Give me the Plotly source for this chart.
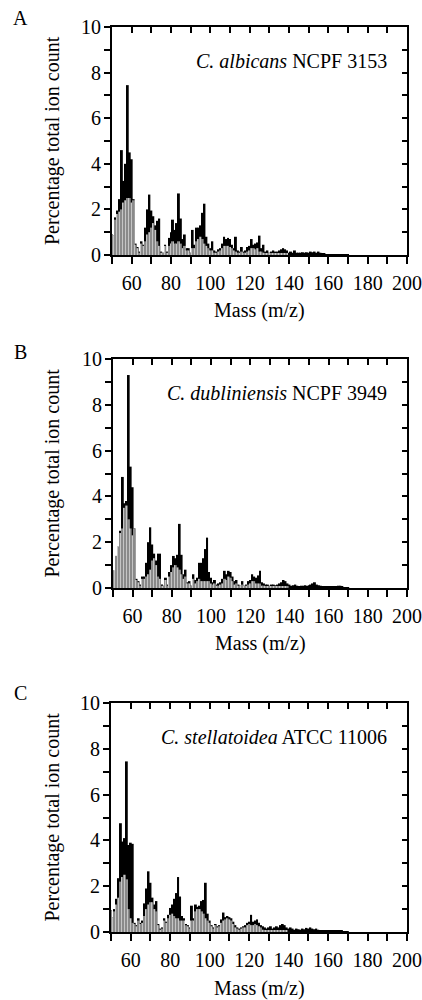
import plotly.graph_objects as go

# ---------------- data ----------------
masses = list(range(50, 171))

A_total = [
    0.9, 0.85, 1.65, 1.95, 2.45, 4.6, 3.25, 4.0, 7.45, 4.5,
    4.2, 2.45, 0.5, 0.35, 0.15, 0.6, 0.45, 1.2, 2.0, 2.65,
    1.95, 1.7, 1.3, 1.5, 1.6, 0.15, 0.1, 0.45, 0.15, 0.75,
    1.0, 1.55, 1.1, 1.4, 2.7, 1.6, 0.7, 0.9, 0.3, 0.3,
    0.1, 1.1, 0.45, 1.2, 1.2, 1.3, 1.85, 2.25, 0.8, 0.5,
    0.3, 0.6, 0.2, 0.15, 0.25, 0.3, 0.5, 0.8, 0.7, 0.75,
    0.7, 0.45, 0.3, 0.8, 0.2, 0.15, 0.35, 0.15, 0.2, 0.35,
    0.4, 0.7, 0.45, 0.5, 0.55, 0.85, 0.3, 0.45, 0.15, 0.2,
    0.1, 0.15, 0.2, 0.15, 0.15, 0.2, 0.25, 0.3, 0.25, 0.2,
    0.1, 0.15, 0.1, 0.2, 0.1, 0.1, 0.1, 0.12, 0.1, 0.12,
    0.1, 0.15, 0.12, 0.15, 0.1, 0.15, 0.1, 0.05, 0.05, 0.04,
    0.04, 0.03, 0.03, 0.03, 0.03, 0.04, 0.04, 0.03, 0.03, 0.02,
    0.02,
]
A_shade = [
    0.9, 0.85, 1.55, 1.8, 1.9, 2.0, 2.3, 2.4, 2.5, 2.5,
    2.3, 2.4, 0.45, 0.3, 0.1, 0.5, 0.4, 0.6, 0.9, 1.0,
    1.2, 1.4, 1.1, 0.6, 0.4, 0.1, 0.08, 0.4, 0.1, 0.4,
    0.5, 0.6, 0.5, 0.5, 0.6, 0.5, 0.3, 0.4, 0.2, 0.2,
    0.08, 0.3, 0.3, 0.6, 0.7, 0.8, 0.7, 0.5, 0.4, 0.3,
    0.2, 0.2, 0.1, 0.1, 0.15, 0.2, 0.3, 0.4, 0.4, 0.4,
    0.35, 0.3, 0.2, 0.15, 0.1, 0.1, 0.15, 0.1, 0.1, 0.15,
    0.2, 0.3, 0.3, 0.25, 0.3, 0.15, 0.15, 0.1, 0.05, 0.05,
    0.05, 0.05, 0.05, 0.05, 0.05, 0.05, 0.05, 0.05, 0.05, 0.05,
    0, 0, 0, 0, 0, 0, 0, 0, 0, 0,
    0, 0, 0, 0, 0, 0, 0, 0, 0, 0,
    0, 0, 0, 0, 0, 0, 0, 0, 0, 0,
    0,
]

B_total = [
    0.75, 0.75, 1.4, 1.8, 2.5, 4.85, 3.7, 3.8, 9.3, 5.3,
    4.4, 2.6, 0.4, 0.3, 0.15, 0.5, 0.5, 1.1, 2.0, 2.65,
    1.9, 1.5, 1.2, 1.5, 1.5, 0.15, 0.1, 0.45, 0.15, 0.7,
    1.0, 1.4, 1.3, 1.45, 2.8, 1.45, 0.6, 0.8, 0.25, 0.3,
    0.1, 0.6, 0.35, 0.45, 1.1, 1.1, 1.3, 1.7, 2.2, 0.7,
    0.45, 0.25, 0.35, 0.15, 0.2, 0.25, 0.4, 0.75, 0.6, 0.75,
    0.7, 0.5, 0.3, 0.35, 0.15, 0.1, 0.3, 0.1, 0.15, 0.3,
    0.35, 0.6, 0.5, 0.45, 0.55, 0.75, 0.25, 0.2, 0.15, 0.15,
    0.1, 0.15, 0.15, 0.12, 0.15, 0.2, 0.25, 0.35, 0.3, 0.2,
    0.15, 0.1, 0.12, 0.15, 0.1, 0.08, 0.1, 0.1, 0.12, 0.1,
    0.12, 0.15, 0.2, 0.25, 0.15, 0.12, 0.1, 0.05, 0.05, 0.05,
    0.05, 0.05, 0.05, 0.06, 0.08, 0.1, 0.1, 0.06, 0.04, 0.03,
    0.02,
]
B_shade = [
    0.75, 0.75, 1.4, 1.8, 2.4, 2.6, 3.5, 3.6, 3.0, 2.6,
    2.3, 2.6, 0.35, 0.25, 0.1, 0.4, 0.4, 0.5, 0.6, 0.8,
    1.2, 1.3, 1.0, 0.5, 0.4, 0.1, 0.08, 0.35, 0.1, 0.5,
    0.7, 0.9, 1.0, 0.9, 0.8, 0.6, 0.4, 0.5, 0.2, 0.2,
    0.08, 0.4, 0.2, 0.3, 0.4, 0.3, 0.3, 0.3, 0.3, 0.3,
    0.2, 0.15, 0.2, 0.1, 0.1, 0.15, 0.2, 0.4, 0.35, 0.5,
    0.45, 0.3, 0.15, 0.2, 0.1, 0.05, 0.15, 0.05, 0.1, 0.15,
    0.2, 0.3, 0.3, 0.2, 0.2, 0.2, 0.1, 0.1, 0.05, 0.05,
    0.05, 0.05, 0.05, 0.05, 0.05, 0.05, 0.05, 0.05, 0.05, 0.05,
    0, 0, 0, 0, 0, 0, 0, 0, 0, 0,
    0, 0, 0, 0, 0, 0, 0, 0, 0, 0,
    0, 0, 0, 0, 0, 0, 0, 0, 0, 0,
    0,
]

C_total = [
    0.95, 0.65, 1.0, 1.45, 2.35, 4.75, 3.95, 4.1, 7.45, 3.8,
    3.9, 3.85, 0.4, 0.3, 0.6, 0.4, 0.5, 1.25, 1.9, 2.65,
    2.15, 1.5, 1.2, 1.35, 0.35, 0.15, 0.2, 0.6, 0.45, 0.75,
    1.05, 1.2, 1.45, 1.7, 2.4, 1.55, 0.7, 0.6, 0.35, 0.3,
    0.2, 1.15, 0.6, 1.2, 1.1, 1.15, 1.35, 1.4, 2.15, 0.8,
    0.5, 0.3, 0.2, 0.35, 0.25, 0.3, 0.55, 0.85, 0.65, 0.7,
    0.65, 0.6, 0.45, 0.3, 0.2, 0.15, 0.2, 0.25, 0.3, 0.4,
    0.45, 0.75, 0.45, 0.5, 0.55, 0.4, 0.3, 0.25, 0.2, 0.15,
    0.2, 0.25, 0.15, 0.2, 0.25, 0.2, 0.3, 0.35, 0.3, 0.2,
    0.15, 0.2, 0.15, 0.1, 0.15, 0.12, 0.1, 0.15, 0.12, 0.18,
    0.15, 0.2, 0.15, 0.12, 0.15, 0.1, 0.08, 0.05, 0.05, 0.05,
    0.05, 0.05, 0.05, 0.06, 0.08, 0.08, 0.07, 0.05, 0.04, 0.03,
    0.02,
]
C_shade = [
    0.95, 0.65, 0.9, 1.2, 1.5, 2.2, 2.4, 2.5, 2.3, 1.0,
    0.6, 0.4, 0.35, 0.25, 0.5, 0.35, 0.4, 0.7, 1.0, 1.2,
    1.3, 1.3, 1.0, 0.9, 0.3, 0.1, 0.15, 0.5, 0.4, 0.6,
    0.75, 0.8, 0.7, 0.6, 0.6, 0.5, 0.5, 0.5, 0.3, 0.25,
    0.15, 0.5, 0.5, 0.9, 1.0, 1.0, 0.9, 0.8, 0.6, 0.5,
    0.4, 0.25, 0.15, 0.3, 0.2, 0.25, 0.4, 0.5, 0.55, 0.6,
    0.55, 0.5, 0.35, 0.2, 0.15, 0.1, 0.15, 0.2, 0.2, 0.3,
    0.35, 0.3, 0.3, 0.35, 0.3, 0.25, 0.2, 0.1, 0.05, 0.05,
    0.05, 0.05, 0.05, 0.05, 0.05, 0.05, 0.05, 0.05, 0.05, 0.05,
    0, 0, 0, 0, 0, 0, 0, 0, 0, 0,
    0, 0, 0, 0, 0, 0, 0, 0, 0, 0,
    0, 0, 0, 0, 0, 0, 0, 0, 0, 0,
    0,
]

panel_letters = ["A", "B", "C"]
species = ["C. albicans", "C. dubliniensis", "C. stellatoidea"]
strains = ["NCPF 3153", "NCPF 3949", "ATCC 11006"]
totals = [A_total, B_total, C_total]
shades = [A_shade, B_shade, C_shade]

x_ticks = list(range(50, 201, 10))
x_ticktext = [str(v) if v % 20 == 0 else "" for v in x_ticks]
y_ticks = list(range(0, 11))
y_ticktext = [str(v) if v % 2 == 0 else "" for v in y_ticks]

# ---------------- layout geometry (pixels) ----------------
W, H = 422, 1000
FONT = "Liberation Serif, Times New Roman, serif"
FS = 20
boxes = [  # x0, x1, ytop, ybottom, letter y, title y
    (112, 407, 27, 255, 18, 311),
    (113, 407, 359, 588, 352, 643),
    (111, 407, 703, 932, 693, 988),
]


def py(p):
    return 1 - p / H


fig = go.Figure()
layout = dict(
    width=W, height=H,
    margin=dict(l=0, r=0, t=0, b=0, pad=0),
    paper_bgcolor="white", plot_bgcolor="white",
    showlegend=False, barmode="overlay",
    font=dict(family=FONT, size=FS, color="black"),
)
annotations = []

for i in range(3):
    n = i + 1
    on = n + 3
    xs = "" if n == 1 else str(n)
    x0, x1, yt, yb, ly, ty = boxes[i]

    fig.add_trace(go.Bar(
        x=masses, y=totals[i], width=1.0,
        marker=dict(color="black", line=dict(width=0)),
        xaxis="x" + xs, yaxis="y" + xs, hoverinfo="skip",
    ))
    fig.add_trace(go.Bar(
        x=masses, y=shades[i], width=1.0,
        marker=dict(color="#9a9a9a", line=dict(width=0),
                    pattern=dict(shape="|", fgcolor="white", bgcolor="#8a8a8a",
                                 size=3, solidity=0.35)),
        xaxis="x" + xs, yaxis="y" + xs, hoverinfo="skip",
    ))
    fig.add_trace(go.Scatter(x=[None], y=[None], xaxis=f"x{on}", yaxis=f"y{on}",
                             mode="markers", hoverinfo="skip"))

    common = dict(showgrid=False, zeroline=False, showline=True, automargin=False,
                  linecolor="black", linewidth=2, tickcolor="black", tickwidth=2,
                  ticklabeloverflow="allow",
                  tickfont=dict(family=FONT, size=FS, color="black"))
    layout["xaxis" + xs] = dict(
        domain=[x0 / W, x1 / W], range=[50, 200], anchor="y" + xs,
        tickmode="array", tickvals=x_ticks, ticktext=x_ticktext,
        ticks="outside", ticklen=7, ticklabelstandoff=2, **common)
    layout["yaxis" + xs] = dict(
        domain=[py(yb), py(yt)], range=[0, 10], anchor="x" + xs,
        tickmode="array", tickvals=y_ticks, ticktext=y_ticktext,
        ticks="outside", ticklen=6, ticklabelstandoff=-1, **common)
    layout[f"xaxis{on}"] = dict(
        overlaying="x" + xs, side="top", anchor=f"y{on}", range=[50, 200],
        tickmode="array", tickvals=x_ticks, showticklabels=False,
        ticks="inside", ticklen=6, **common)
    layout[f"yaxis{on}"] = dict(
        overlaying="y" + xs, side="right", anchor=f"x{on}", range=[0, 10],
        tickmode="array", tickvals=y_ticks, showticklabels=False,
        ticks="inside", ticklen=5, **common)

    annotations += [
        dict(text=panel_letters[i], xref="paper", yref="paper",
             x=20 / W, y=py(ly), xanchor="center", yanchor="middle",
             showarrow=False, font=dict(family=FONT, size=FS, color="black")),
        dict(text=f"<i>{species[i]}</i> {strains[i]}",
             xref=f"x{xs} domain", yref=f"y{xs} domain",
             x=0.94, y=0.85, xanchor="right", yanchor="middle", showarrow=False,
             font=dict(family=FONT, size=FS, color="black")),
        dict(text="Percentage total ion count", textangle=-90,
             xref="paper", yref=f"y{xs} domain", x=52 / W, y=0.5,
             xanchor="center", yanchor="middle",
             showarrow=False, font=dict(family=FONT, size=FS, color="black")),
        dict(text="Mass (m/z)", xref=f"x{xs} domain", yref="paper",
             x=0.5, y=py(ty), xanchor="center", yanchor="middle",
             showarrow=False, font=dict(family=FONT, size=FS, color="black")),
    ]

layout["annotations"] = annotations
fig.update_layout(**layout)
fig.write_html(
    "out.html",
    config={"displayModeBar": False},
    post_script="document.body.style.margin='0';document.body.style.overflow='hidden';",
)
